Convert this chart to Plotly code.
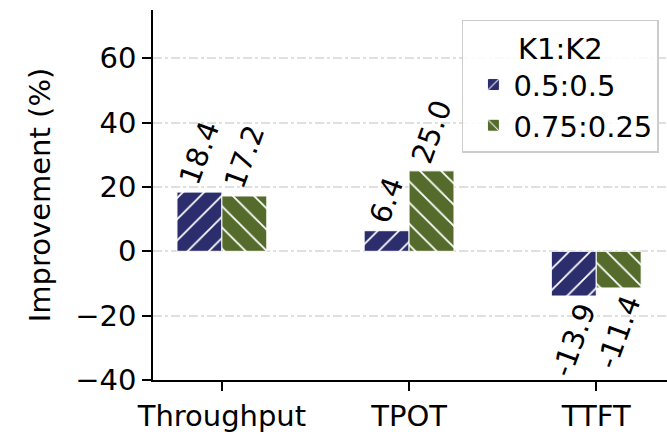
import plotly.graph_objects as go

categories = ["Throughput", "TPOT", "TTFT"]
series_names = ["0.5:0.5", "0.75:0.25"]
values_a = [18.4, 6.4, -13.9]
values_b = [17.2, 25.0, -11.4]
colors = ["#2b2d6c", "#546b2b"]
shapes = ["/", "\\"]

FS = 29

fig = go.Figure()
for name, vals, col, shp in zip(series_names, [values_a, values_b], colors, shapes):
    fig.add_trace(go.Bar(
        x=categories, y=vals, name=name,
        marker=dict(color=col, line=dict(color="white", width=1),
                    pattern=dict(shape=shp, fgcolor="white", bgcolor=col,
                                 size=15, solidity=0.12, fillmode="replace")),
        texttemplate="%{y:.1f}", textposition="outside", textangle=-70,
        constraintext="none", cliponaxis=False,
        textfont=dict(family="DejaVu Sans", size=FS, color="black"),
    ))

fig.update_layout(
    width=667, height=434,
    margin=dict(l=153, r=0, t=10, b=54),
    plot_bgcolor="white", paper_bgcolor="white",
    barmode="group", bargap=0.52, bargroupgap=0,
    font=dict(family="DejaVu Sans", size=FS, color="black"),
    legend=dict(
        title=dict(text="K1:K2", side="top center", font=dict(size=FS)),
        x=0.601, y=0.973, xanchor="left", yanchor="top",
        bgcolor="rgba(255,255,255,0.85)", bordercolor="#cccccc", borderwidth=1.5,
        font=dict(size=FS), itemwidth=30, tracegroupgap=0, indentation=10,
    ),
    xaxis=dict(range=[-0.368, 2.378], showline=True, linecolor="black", linewidth=1.5,
               ticks="outside", ticklen=9, tickcolor="black", tickwidth=1.5, showgrid=False,
               tickfont=dict(size=FS)),
    yaxis=dict(range=[-40, 75], showline=True, linecolor="black", linewidth=1.5,
               ticks="outside", ticklen=9, tickcolor="black", tickwidth=1.5,
               tickvals=[-40, -20, 0, 20, 40, 60],
               ticktext=["\u221240", "\u221220", "0", "20", "40", "60"],
               showgrid=True, gridcolor="#e0e0e0", griddash="dashdot", gridwidth=1.5,
               zeroline=False,
               title=dict(text="Improvement (%)", font=dict(size=FS), standoff=16),
               tickfont=dict(size=FS)),
)
fig.write_html("out.html")
